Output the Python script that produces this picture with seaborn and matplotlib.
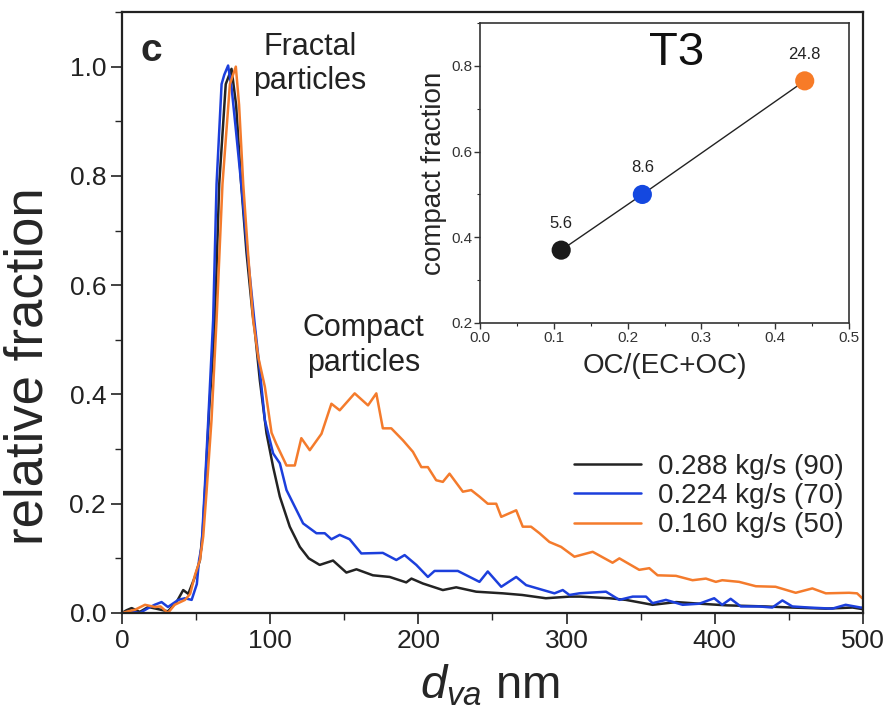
import numpy as np
import pandas as pd
import matplotlib
matplotlib.use("Agg")
import matplotlib.pyplot as plt
from matplotlib.ticker import MultipleLocator
import seaborn as sns

# ---------------- data ----------------
labels = ["0.288 kg/s (90)", "0.224 kg/s (70)", "0.160 kg/s (50)"]
colors = ["#232323", "#1c3fdc", "#f47b2c"]

x_black = [0, 3, 6.5, 12, 17.7, 24.5, 31, 36.8, 41.3, 44.7, 49.2, 52.6, 54.5, 56.5, 59, 62.5,
           65.6, 70, 73.9, 77, 80.4, 84, 88, 89.6, 93, 97.5, 102, 106.5, 113.2, 120, 126,
           133.4, 142.4, 151.4, 158.2, 169.3, 180.6, 191.8, 195.3, 203, 216.5, 225.5, 239,
           257, 270, 286, 302, 309, 329, 340, 358, 374, 390, 408, 434, 452, 475, 493, 500]
y_black = [0, 0.005, 0.009, 0.002, 0.011, 0.007, 0.003, 0.02, 0.042, 0.035, 0.066, 0.097,
           0.15, 0.25, 0.38, 0.52, 0.785, 0.968, 0.996, 0.93, 0.785, 0.66, 0.55, 0.517,
           0.426, 0.329, 0.267, 0.213, 0.158, 0.121, 0.1, 0.088, 0.096, 0.074, 0.08, 0.069,
           0.066, 0.056, 0.063, 0.054, 0.042, 0.047, 0.039, 0.036, 0.033, 0.027, 0.03, 0.03,
           0.027, 0.024, 0.015, 0.02, 0.017, 0.014, 0.012, 0.01, 0.008, 0.01, 0.007]

x_blue = [0, 6, 12, 17.7, 22, 26.7, 31, 38, 42.5, 47, 50.5, 52, 53.7, 55.9, 58.2, 60.4, 61.5,
          63.8, 67.2, 69, 71.6, 74, 77, 81, 85, 89.5, 93, 96.4, 102, 106.5, 111, 113.2, 120,
          122.2, 131.2, 136.8, 141.3, 146.9, 153.6, 161.5, 176, 185.1, 190.7, 198.6, 206.4,
          210.9, 226.6, 241.2, 246.8, 255.9, 266, 272.7, 291.8, 297.4, 301.9, 308.6, 326.6,
          335.6, 344.6, 353.6, 358, 367, 378.3, 389.5, 399.6, 405, 410.7, 417.5, 429.8,
          438.8, 445.6, 452.3, 463.5, 479.3, 488.3, 498.4, 500]
y_blue = [0, 0.003, 0, 0.009, 0.015, 0.02, 0.011, 0.024, 0.027, 0.024, 0.053, 0.097, 0.121,
          0.231, 0.353, 0.475, 0.536, 0.785, 0.968, 0.985, 1.002, 0.96, 0.88, 0.77, 0.65,
          0.53, 0.444, 0.353, 0.292, 0.274, 0.225, 0.213, 0.176, 0.164, 0.146, 0.146, 0.135,
          0.143, 0.135, 0.109, 0.11, 0.097, 0.106, 0.088, 0.066, 0.077, 0.077, 0.057, 0.076,
          0.048, 0.066, 0.051, 0.036, 0.042, 0.033, 0.036, 0.039, 0.024, 0.03, 0.03, 0.018,
          0.024, 0.015, 0.017, 0.027, 0.015, 0.026, 0.012, 0.012, 0.01, 0.023, 0.012, 0.01,
          0.008, 0.015, 0.01, 0.01]

x_orange = [0, 4, 8.8, 15.5, 22.2, 26, 31, 35.5, 42.5, 46, 49.2, 52.6, 54.8, 57, 60.4, 63.8,
            67.8, 72.8, 76.8, 79, 81.8, 85, 88.5, 91.9, 96.4, 100.9, 104, 111, 116.6, 121,
            126.7, 134.6, 141.3, 146.9, 157, 166, 171.6, 176, 181.7, 189.6, 196.3, 202, 206.4,
            212, 216.5, 221, 230, 235.6, 241.2, 246.8, 252.5, 255.9, 266, 270.4, 276, 281.7,
            288.4, 296.3, 305.3, 317.6, 331, 335.6, 349, 355.8, 361.4, 373.8, 385, 394, 400.7,
            405, 416.4, 427.7, 441, 454.6, 465.8, 474.9, 490.6, 496, 499.5]
y_orange = [0, 0.003, 0.006, 0.015, 0.011, 0.012, 0, 0.015, 0.024, 0.035, 0.069, 0.097, 0.14,
            0.22, 0.353, 0.536, 0.785, 0.968, 1.0, 0.93, 0.785, 0.66, 0.536, 0.469, 0.414,
            0.33, 0.31, 0.27, 0.27, 0.32, 0.298, 0.328, 0.383, 0.371, 0.402, 0.38, 0.402,
            0.338, 0.338, 0.316, 0.295, 0.267, 0.267, 0.243, 0.24, 0.255, 0.222, 0.225, 0.213,
            0.2, 0.2, 0.176, 0.188, 0.158, 0.158, 0.146, 0.13, 0.121, 0.103, 0.112, 0.092,
            0.1, 0.079, 0.082, 0.069, 0.068, 0.06, 0.063, 0.057, 0.06, 0.057, 0.049, 0.048,
            0.037, 0.045, 0.036, 0.037, 0.036, 0.027]

# inset data
inset_x = [0.11, 0.22, 0.44]
inset_y = [0.37, 0.50, 0.765]
inset_labels = ["5.6", "8.6", "24.8"]
inset_colors = ["#1a1a1a", "#1448e0", "#f77b27"]

# ---------------- style ----------------
sns.set_style("ticks")
plt.rcParams["font.family"] = ["Liberation Sans", "DejaVu Sans"]
plt.rcParams["mathtext.fontset"] = "custom"
plt.rcParams["mathtext.it"] = "Liberation Sans:italic"
plt.rcParams["mathtext.rm"] = "Liberation Sans"

fig = plt.figure(figsize=(8.91, 7.24), dpi=100)
ax = fig.add_axes([122 / 891, 1 - 613 / 724, (863 - 122) / 891, (613 - 12) / 724])

series = [(x_black, y_black), (x_blue, y_blue), (x_orange, y_orange)]
for (xs, ys), lab, col in zip(series, labels, colors):
    df = pd.DataFrame({"x": xs, "y": ys})
    sns.lineplot(data=df, x="x", y="y", ax=ax, color=col, lw=1.8, label=lab,
                 estimator=None, sort=False)

ax.set_xlim(0, 500)
ax.set_ylim(0, 1.1)
ax.xaxis.set_major_locator(MultipleLocator(100))
ax.xaxis.set_minor_locator(MultipleLocator(50))
ax.set_yticks([0, 0.2, 0.4, 0.6, 0.8, 1.0])
ax.yaxis.set_minor_locator(MultipleLocator(0.1))
ax.yaxis.set_major_formatter(matplotlib.ticker.FormatStrFormatter("%.1f"))
ax.tick_params(which="major", direction="out", length=8, width=1.2, labelsize=19,
               colors="#222222", top=False, right=False)
ax.tick_params(which="minor", direction="out", length=5, width=1.0, top=False, right=False)
for sp in ax.spines.values():
    sp.set_linewidth(1.6)
    sp.set_color("#222222")
    sp.set_visible(True)

ax.set_xlabel(r"$d_{va}$ nm", fontsize=34)
ax.xaxis.set_label_coords(0.497, -0.083)
ax.set_ylabel("relative fraction", fontsize=38)
ax.yaxis.set_label_coords(-0.092, 0.41)

ax.text(0.04, 0.965, "c", transform=ax.transAxes, fontsize=28, fontweight="bold",
        ha="center", va="top")
ax.text(127, 1.005, "Fractal\nparticles", fontsize=22, ha="center", va="center",
        linespacing=1.2, color="#222222")
ax.text(163, 0.49, "Compact\nparticles", fontsize=22, ha="center", va="center",
        linespacing=1.2, color="#222222")

leg = ax.legend(loc="lower right", bbox_to_anchor=(1.0, 0.092), frameon=False, fontsize=20,
                handlelength=2.4, handletextpad=0.6, labelspacing=0.12, borderaxespad=0.3)

# ---------------- inset ----------------
ia = fig.add_axes([480 / 891, 1 - 323 / 724, (849 - 480) / 891, (323 - 23) / 724])
idf = pd.DataFrame({"x": inset_x, "y": inset_y, "lab": inset_labels})
sns.lineplot(data=idf, x="x", y="y", ax=ia, color="#222222", lw=1.0, estimator=None,
             sort=False, legend=False)
sns.scatterplot(data=idf, x="x", y="y", hue="lab", palette=inset_colors, s=190,
                edgecolor="none", ax=ia, legend=False, zorder=3)
for xv, yv, t in zip(inset_x, inset_y, inset_labels):
    ia.text(xv, yv + 0.045, t, fontsize=12, ha="center", va="bottom", color="#222222")
ia.text(0.266, 0.83, "T3", fontsize=34, ha="center", va="center", color="#111111")
ia.set_xlim(0, 0.5)
ia.set_ylim(0.2, 0.9)
ia.xaxis.set_major_locator(MultipleLocator(0.1))
ia.xaxis.set_minor_locator(MultipleLocator(0.05))
ia.set_yticks([0.2, 0.4, 0.6, 0.8])
ia.yaxis.set_minor_locator(MultipleLocator(0.1))
ia.xaxis.set_major_formatter(matplotlib.ticker.FormatStrFormatter("%.1f"))
ia.yaxis.set_major_formatter(matplotlib.ticker.FormatStrFormatter("%.1f"))
ia.tick_params(which="major", direction="out", length=4, width=1.0, labelsize=11,
               colors="#333333", pad=1.5)
ia.tick_params(which="minor", direction="out", length=2.5, width=0.8)
for sp in ia.spines.values():
    sp.set_linewidth(1.2)
    sp.set_color("#333333")
    sp.set_visible(True)
ia.set_xlabel("OC/(EC+OC)", fontsize=20, labelpad=6)
ia.set_ylabel("compact fraction", fontsize=20, labelpad=3)

fig.savefig("out.png", dpi=100)
